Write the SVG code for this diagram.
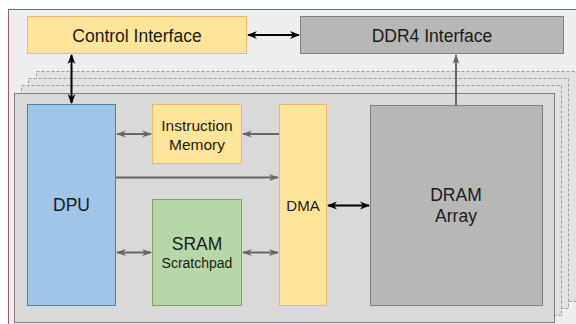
<svg xmlns="http://www.w3.org/2000/svg" width="576" height="324" viewBox="0 0 576 324">
  <defs>
    <marker id="arrowBlack" viewBox="0 0 10 10" refX="9" refY="5" markerWidth="10" markerHeight="10" markerUnits="userSpaceOnUse" orient="auto-start-reverse">
      <path d="M0,1 L10,5 L0,9 L3,5 z" fill="#000000"/>
    </marker>
    <marker id="arrowGrey" viewBox="0 0 10 10" refX="9" refY="5" markerWidth="10" markerHeight="10" markerUnits="userSpaceOnUse" orient="auto-start-reverse">
      <path d="M0,1.5 L10,5 L0,8.5 L3,5 z" fill="#666666"/>
    </marker>
    <style>
      text { font-family: "Liberation Sans", Arial, sans-serif; fill: #1a1a1a; text-anchor: middle; }
      .yellow { fill: #ffe599; stroke: #f4b66a; stroke-width: 1; }
      .grey { fill: #b7b7b7; stroke: #7f7f7f; stroke-width: 1; }
      .blue { fill: #9fc5e8; stroke: #4f7fad; stroke-width: 1; }
      .green { fill: #b6d7a8; stroke: #7aa36a; stroke-width: 1; }
      .layer { fill: #e2e2e2; stroke: #9a9a9a; stroke-width: 1; stroke-dasharray: 3 2; }
      .panel { fill: #d9d9d9; stroke: #7f7f7f; stroke-width: 1; }
      .blk { stroke: #000000; stroke-width: 2; fill: none; marker-end: url(#arrowBlack); }
      .gry { stroke: #666666; stroke-width: 2; fill: none; marker-end: url(#arrowGrey); }
    </style>
  </defs>

  <!-- background frame -->
  <rect x="0" y="0" width="576" height="324" fill="#ffffff"/>
  <rect x="8.5" y="9.5" width="580" height="330" fill="#eeeeee" stroke="#a0577a" stroke-width="1"/>

  <!-- stacked banks behind the main one -->
  <g id="bank-stack">
    <rect class="layer" x="36.5" y="71.5" width="540" height="230"/>
    <rect class="layer" x="28.5" y="78.5" width="540" height="230"/>
    <rect class="layer" x="21.5" y="85.5" width="540" height="230"/>
    <rect class="panel" x="14.5" y="93.5" width="540" height="229"/>
  </g>

  <g id="control-interface">
    <rect class="yellow" x="27.5" y="16.5" width="219" height="37"/>
    <text x="137" y="41.5" font-size="17.5">Control Interface</text>
  </g>

  <g id="ddr4-interface">
    <rect class="grey" x="300.5" y="16.5" width="263" height="37"/>
    <text x="432" y="41.5" font-size="17.5">DDR4 Interface</text>
  </g>

  <g id="dpu">
    <rect class="blue" x="27.5" y="104.5" width="88" height="201"/>
    <text x="71.5" y="211" font-size="17.5">DPU</text>
  </g>

  <g id="instruction-memory">
    <rect class="yellow" x="152.5" y="104.5" width="89" height="59"/>
    <text x="197" y="130.5" font-size="15.5">Instruction</text>
    <text x="197" y="150" font-size="15.5">Memory</text>
  </g>

  <g id="sram-scratchpad">
    <rect class="green" x="152.5" y="199.5" width="89" height="106"/>
    <text x="197" y="250" font-size="17.5">SRAM</text>
    <text x="197" y="267.5" font-size="14">Scratchpad</text>
  </g>

  <g id="dma">
    <rect class="yellow" x="279.5" y="104.5" width="47" height="201"/>
    <text x="303" y="210.5" font-size="15">DMA</text>
  </g>

  <g id="dram-array">
    <rect class="grey" x="370.5" y="105.5" width="172" height="200"/>
    <text x="456" y="201" font-size="17.5">DRAM</text>
    <text x="456" y="222" font-size="17.5">Array</text>
  </g>

  <g id="connectors">
    <!-- control interface <-> DDR4 interface -->
    <line class="blk" x1="248" y1="35" x2="299" y2="35" marker-start="url(#arrowBlack)"/>
    <!-- control interface <-> DPU -->
    <line class="blk" x1="71.5" y1="55" x2="71.5" y2="103" marker-start="url(#arrowBlack)"/>
    <!-- DRAM array -> DDR4 interface -->
    <line class="gry" x1="456" y1="105" x2="456" y2="55"/>
    <!-- DPU <-> instruction memory -->
    <line class="gry" x1="117" y1="134" x2="151" y2="134" marker-start="url(#arrowGrey)"/>
    <!-- DMA -> instruction memory -->
    <line class="gry" x1="279" y1="134" x2="243" y2="134"/>
    <!-- DPU -> DMA -->
    <line class="gry" x1="116" y1="177.5" x2="278" y2="177.5"/>
    <!-- DPU <-> SRAM -->
    <line class="gry" x1="117" y1="252.5" x2="151" y2="252.5" marker-start="url(#arrowGrey)"/>
    <!-- SRAM <-> DMA -->
    <line class="gry" x1="243" y1="252.5" x2="278" y2="252.5" marker-start="url(#arrowGrey)"/>
    <!-- DMA <-> DRAM array -->
    <line class="blk" x1="328" y1="205.5" x2="369" y2="205.5" marker-start="url(#arrowBlack)"/>
  </g>
</svg>
